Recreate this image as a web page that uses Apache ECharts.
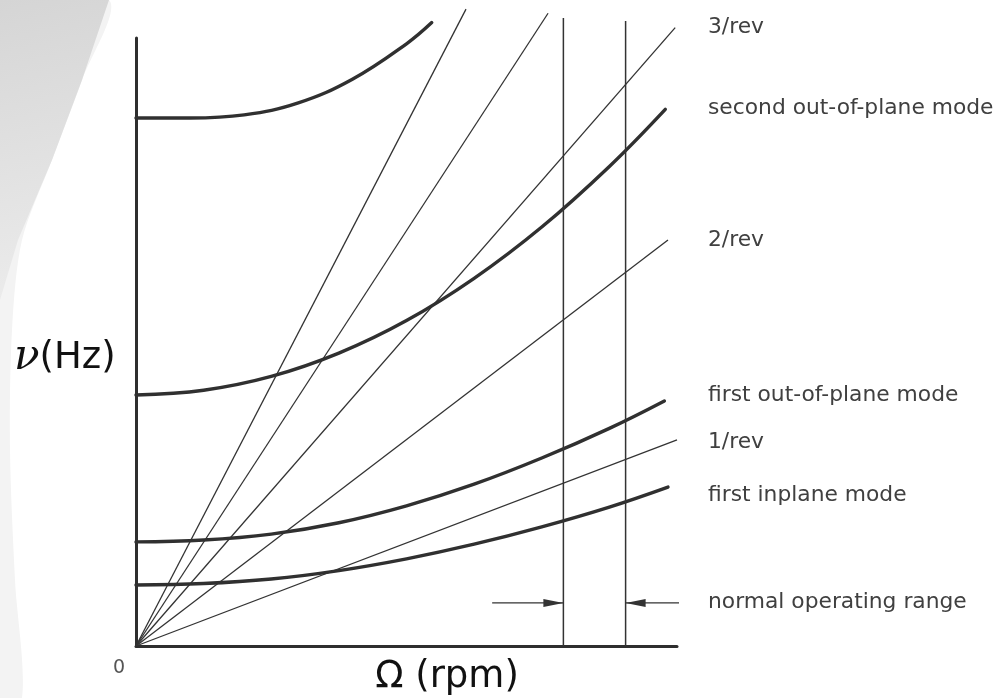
<!DOCTYPE html>
<html>
<head>
<meta charset="utf-8">
<script src="https://cdn.jsdelivr.net/npm/echarts@6/dist/echarts.min.js"></script>
<style>
html,body{margin:0;padding:0;background:#ffffff;}
#chart{width:1003px;height:698px;}
</style>
</head>
<body>
<div id="chart"></div>
<script>
// ---------- data ----------
const omegaMax = 600;      // rpm at the end of the horizontal axis
const nuMax = 29.5;        // Hz at the top of the vertical axis

// per-rev excitation lines: start at origin, end points
const revNames     = ['1/rev', '2/rev', '3/rev', '4/rev', '5/rev'];
const revEndOmega  = [600, 590, 598, 457, 366];
const revEndNu     = [10.0, 19.7, 30.0, 30.7, 30.9];

// blade natural frequency curves (Omega in rpm, nu in Hz)
const inplane1Omega   = [0, 75, 150, 225, 300, 375, 450, 525, 590];
const inplane1Nu      = [2.96, 3.03, 3.25, 3.66, 4.23, 4.94, 5.78, 6.74, 7.71];
const outplane1Omega  = [0, 75, 150, 225, 300, 375, 450, 525, 586];
const outplane1Nu     = [5.05, 5.14, 5.43, 5.98, 6.80, 7.85, 9.12, 10.56, 11.89];
const outplane2Omega  = [0, 75, 150, 225, 300, 375, 450, 525, 587];
const outplane2Nu     = [12.18, 12.41, 13.08, 14.21, 15.79, 17.84, 20.33, 23.27, 26.04];
const upperModeOmega  = [0, 60, 120, 180, 240, 300, 328];
const upperModeNu     = [25.62, 25.62, 25.77, 26.35, 27.50, 29.22, 30.25];

// normal operating range
const operatingOmega  = [474, 543];
const operatingTopNu  = [30.47, 30.33];
const arrowNu         = 2.09;
const arrowTailOmega  = [395, 618];

// right-hand annotation texts
const annotationTexts = ['3/rev', 'second out-of-plane mode', '2/rev',
  'first out-of-plane mode', '1/rev', 'first inplane mode', 'normal operating range'];
const xAxisTitle = 'Ω (rpm)';
const yAxisSymbol = 'ν';
const yAxisUnit = '(Hz)';
const originLabel = '0';

// ---------- helpers ----------
function pairs(xs, ys) { return xs.map((x, i) => [x, ys[i]]); }

const ink = '#333333';
const series = [];

revNames.forEach((name, i) => {
  series.push({
    name: name, type: 'line', clip: false, silent: true, symbol: 'none',
    data: [[0, 0], [revEndOmega[i], revEndNu[i]]],
    lineStyle: { color: ink, width: 1.3 }
  });
});

[
  ['first inplane mode', inplane1Omega, inplane1Nu],
  ['first out-of-plane mode', outplane1Omega, outplane1Nu],
  ['second out-of-plane mode', outplane2Omega, outplane2Nu],
  ['upper mode', upperModeOmega, upperModeNu]
].forEach(([name, xs, ys]) => {
  series.push({
    name: name, type: 'line', clip: false, silent: true, symbol: 'none',
    smooth: 0.4,
    data: pairs(xs, ys),
    lineStyle: { color: '#303030', width: 3.4, cap: 'round' }
  });
});

operatingOmega.forEach((om, i) => {
  series.push({
    name: 'limit' + i, type: 'line', clip: false, silent: true, symbol: 'none',
    data: [[om, 0], [om, operatingTopNu[i]]],
    lineStyle: { color: ink, width: 1.5 }
  });
});

// arrows pointing at the operating limits
[[arrowTailOmega[0], operatingOmega[0], -90, -10], [arrowTailOmega[1], operatingOmega[1], 90, 10]]
.forEach(([tail, tip, rot, off], i) => {
  series.push({
    name: 'arrow' + i, type: 'line', clip: false, silent: true,
    symbol: 'triangle', symbolSize: [8, 20], symbolRotate: rot, symbolOffset: [off, 0],
    showSymbol: true,
    data: [{ value: [tail, arrowNu], symbol: 'none' }, { value: [tip, arrowNu] }],
    lineStyle: { color: ink, width: 1.3 },
    itemStyle: { color: ink, borderWidth: 0 }
  });
});

const labelX = 708;
const labelY = [27, 108, 240, 395, 442, 495, 602];
const labelFont = '"DejaVu Sans", sans-serif';

const graphics = [
  { type: 'polygon', z: -10, silent: true,
    shape: { points: [[0,0],[109,0],[82,80],[52,160],[22,240],[12,330],[10,450],[15,580],[22,698],[0,698]], smooth: 0.3 },
    style: { fill: '#f3f3f3' } },
  { type: 'polygon', z: -9, silent: true,
    shape: { points: [[0,0],[109,0],[82,80],[52,160],[18,240],[0,300]] },
    style: { fill: { type: 'linear', x: 0, y: 0, x2: 0.6, y2: 1, colorStops: [
      { offset: 0, color: '#d5d5d5' }, { offset: 1, color: '#ececec' }] } } }
];
annotationTexts.forEach((t, i) => {
  graphics.push({ type: 'text', silent: true, x: labelX, y: labelY[i],
    style: { text: t, fill: '#404040', font: '21.8px ' + labelFont, verticalAlign: 'middle' } });
});
graphics.push({ type: 'text', silent: true, x: 113, y: 668,
  style: { text: originLabel, fill: '#555', font: '19px ' + labelFont, verticalAlign: 'middle' } });
graphics.push({ type: 'text', silent: true, x: 447, y: 677,
  style: { text: xAxisTitle, fill: '#111', font: '37px "DejaVu Sans", sans-serif',
    align: 'center', verticalAlign: 'middle' } });
graphics.push({ type: 'text', silent: true, x: 14, y: 358,
  style: {
    text: '{g|' + yAxisSymbol + '}{u|' + yAxisUnit + '}',
    verticalAlign: 'middle',
    rich: {
      g: { font: 'italic 42px "DejaVu Serif", serif', fill: '#111' },
      u: { font: '37px "DejaVu Sans", sans-serif', fill: '#111' }
    }
  } });

const chart = echarts.init(document.getElementById('chart'));
chart.setOption({
  animation: false,
  backgroundColor: '#ffffff',
  grid: { left: 136, right: 326, top: 38, bottom: 52, containLabel: false },
  xAxis: {
    type: 'value', min: 0, max: omegaMax,
    axisLine: { show: true, onZero: false, lineStyle: { color: '#2e2e2e', width: 3 } },
    axisTick: { show: false }, axisLabel: { show: false }, splitLine: { show: false }
  },
  yAxis: {
    type: 'value', min: 0, max: nuMax,
    axisLine: { show: true, onZero: false, lineStyle: { color: '#2e2e2e', width: 3 } },
    axisTick: { show: false }, axisLabel: { show: false }, splitLine: { show: false }
  },
  graphic: graphics,
  series: series
});
</script>
</body>
</html>
